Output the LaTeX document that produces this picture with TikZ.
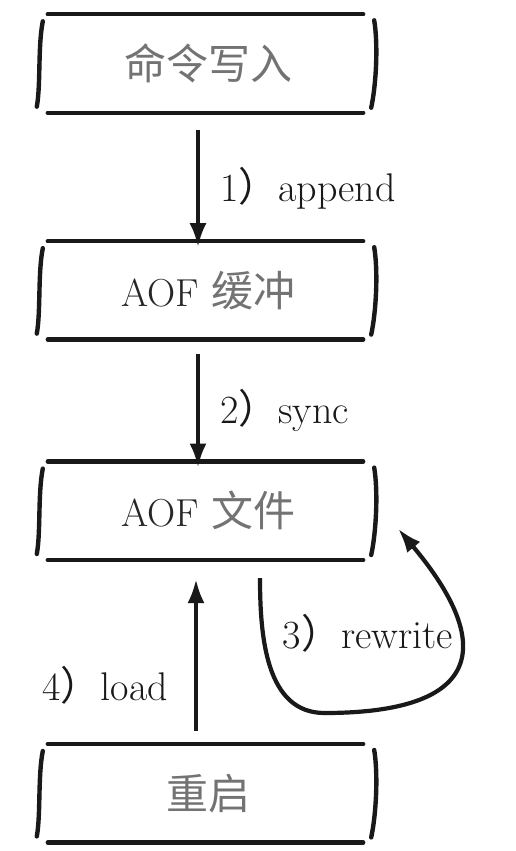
\documentclass[tikz,border=0pt]{standalone}
\usepackage{fontspec}
\newfontfamily\cjk{Noto Sans CJK SC}
\usepackage{tikz}
\usetikzlibrary{arrows.meta, positioning}

\begin{document}
\begin{tikzpicture}[
        stage/.style={
            rectangle,
            minimum width=333pt,
            minimum height=98pt,
            inner sep=0pt,
            align=center,
            text=black!85,
            font=\fontsize{39}{42}\selectfont\addfontfeatures{FakeBold=0.6}
        },
        sketch/.style={
            draw=black!90,
            line width=4.4pt,
            line cap=round
        },
        flow/.style={
            -{Latex[length=24pt,width=17pt]},
            draw=black!90,
            line width=4.2pt
        },
        tag/.style={
            inner sep=0pt,
            text=black!90,
            font=\fontsize{40}{44}\selectfont\addfontfeatures{FakeBold=0.6}
        }
    ]
        \useasboundingbox (0,0) rectangle (516pt,-851pt);

        \node (cmd) [stage] at (208.5pt,-63.5pt) {{\cjk\fontsize{42}{46}\selectfont\color{black!55}命令写入}};
        \node (buf) [stage, below=128.5pt of cmd] {AOF {\cjk\fontsize{42}{46}\selectfont\color{black!55}缓冲}};
        \node (file) [stage, below=122pt of buf] {AOF {\cjk\fontsize{42}{46}\selectfont\color{black!55}文件}};
        \node (boot) [stage, below=184pt of file] {{\cjk\fontsize{42}{46}\selectfont\color{black!55}重启}};

        % hand drawn outlines
        \foreach \n in {cmd, buf, file, boot} {
            \draw [sketch] ([xshift=6pt]\n.north west) -- ([xshift=-12pt]\n.north east);
            \draw [sketch] ([xshift=6pt]\n.south west) -- ([xshift=-12pt]\n.south east);
            \draw [sketch] ([xshift=1pt,yshift=-7pt]\n.north west) .. controls ([xshift=-4pt,yshift=-32pt]\n.north west) and ([xshift=-1pt,yshift=28pt]\n.south west) .. ([xshift=-5pt,yshift=6pt]\n.south west);
            \draw [sketch] ([xshift=-1pt,yshift=-6pt]\n.north east) .. controls ([xshift=3pt,yshift=-30pt]\n.north east) and ([xshift=1pt,yshift=28pt]\n.south east) .. ([xshift=-4pt,yshift=5pt]\n.south east);
        }

        \coordinate (rwlow) at ([xshift=116pt,yshift=-153pt]file.south);

        \draw [flow] ([xshift=-10.5pt,yshift=-17.5pt]cmd.south) -- ([xshift=-10.5pt,yshift=-6pt]buf.north)
            node [midway, right=20pt, tag] {1{\cjk ）}append};
        \draw [flow] ([xshift=-10.5pt,yshift=-14pt]buf.south) -- ([xshift=-10.5pt,yshift=-6pt]file.north)
            node [midway, right=20pt, tag] {2{\cjk ）}sync};
        \draw [flow] ([xshift=-12.5pt,yshift=13pt]boot.north) -- ([xshift=-12.5pt,yshift=-19pt]file.south)
            node [pos=0.3, left=26pt, tag] {4{\cjk ）}load};
        \draw [flow] ([xshift=51.5pt,yshift=-18pt]file.south) to[out=-90, in=180]
            node [pos=0.3, anchor=west, xshift=18pt, tag] {3{\cjk ）}rewrite} (rwlow)
            to[out=0, in=-50, looseness=2] ([xshift=23pt,yshift=-18pt]file.east);
    \end{tikzpicture}
\end{document}
